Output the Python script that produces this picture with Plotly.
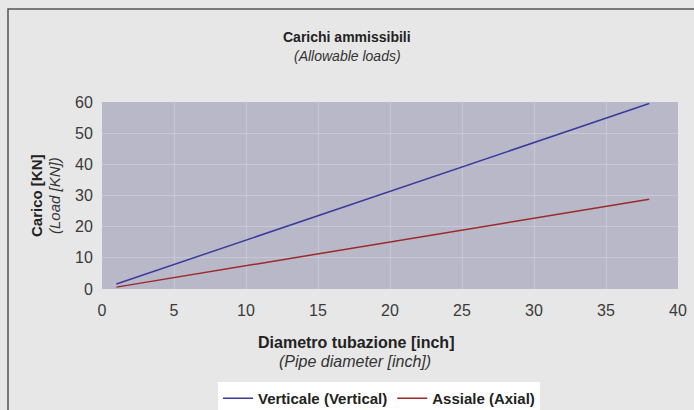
import plotly.graph_objects as go

diameter_vertical = [1, 38]
load_vertical = [1.6, 59.5]
diameter_axial = [1, 38]
load_axial = [0.6, 28.8]
x_ticks = [0, 5, 10, 15, 20, 25, 30, 35, 40]
y_ticks = [0, 10, 20, 30, 40, 50, 60]

FONT = "Liberation Sans, Arial, sans-serif"

fig = go.Figure()
fig.add_trace(go.Scatter(x=diameter_vertical, y=load_vertical, mode="lines",
                         name="<b>Verticale (Vertical)</b>",
                         line=dict(color="#3a3a9c", width=1.5)))
fig.add_trace(go.Scatter(x=diameter_axial, y=load_axial, mode="lines",
                         name="<b>Assiale (Axial)</b>",
                         line=dict(color="#9a2a2a", width=1.5)))

L, R, T, B = 102, 16, 102, 121
W, H = 694, 410
pw, ph = W - L - R, H - T - B

def px(xp):
    return (xp - L) / pw

def py(yp):
    return (H - B - yp) / ph

tick_font = dict(family=FONT, size=16, color="#3a3a3a")

fig.update_layout(
    width=W, height=H,
    margin=dict(l=L, r=R, t=T, b=B, autoexpand=False),
    paper_bgcolor="#e7e7e7",
    plot_bgcolor="#b9b8c9",
    font=dict(family=FONT, size=16, color="#3a3a3a"),
    showlegend=True,
    legend=dict(orientation="h", x=px(379), xanchor="center", y=py(382), yanchor="top",
                bgcolor="#ffffff", font=dict(size=15, color="#222222", family=FONT),
                itemwidth=30, tracegroupgap=0),
    xaxis=dict(range=[0, 40], tickvals=x_ticks, showgrid=True, gridcolor="#c8c8d4",
               gridwidth=1, zeroline=False, ticks="outside", ticklen=7, tickfont=tick_font,
               tickcolor="rgba(0,0,0,0)", showline=False, fixedrange=True),
    yaxis=dict(range=[0, 60], tickvals=y_ticks, showgrid=True, gridcolor="#c8c8d4",
               gridwidth=1, zeroline=False, ticks="outside", ticklen=5, tickfont=tick_font,
               tickcolor="rgba(0,0,0,0)", showline=False, fixedrange=True),
)

annotations = [
    dict(text="<b>Carichi ammissibili</b>", x=px(347), y=py(37), font=dict(size=14, color="#222222")),
    dict(text="<i>(Allowable loads)</i>", x=px(347), y=py(56), font=dict(size=14, color="#333333")),
    dict(text="<b>Diametro tubazione [inch]</b>", x=px(356), y=py(342), font=dict(size=16, color="#222222")),
    dict(text="<i>(Pipe diameter [inch])</i>", x=px(355), y=py(361), font=dict(size=16, color="#333333")),
    dict(text="<b>Carico [KN]</b>", x=px(36), y=py(196), textangle=-90, font=dict(size=15, color="#222222")),
    dict(text="<i>(Load [KN])</i>", x=px(54), y=py(196), textangle=-90, font=dict(size=15, color="#333333")),
]
for a in annotations:
    a.update(xref="paper", yref="paper", showarrow=False, xanchor="center", yanchor="middle")
fig.update_layout(annotations=annotations)

fig.add_shape(type="rect", xref="paper", yref="paper",
              x0=px(8), x1=px(700), y0=py(9), y1=py(420),
              line=dict(color="#555555", width=1.5), fillcolor="rgba(0,0,0,0)", layer="below")

fig.write_html("out.html", config={"displayModeBar": False},
               post_script="document.body.style.margin='0';")
